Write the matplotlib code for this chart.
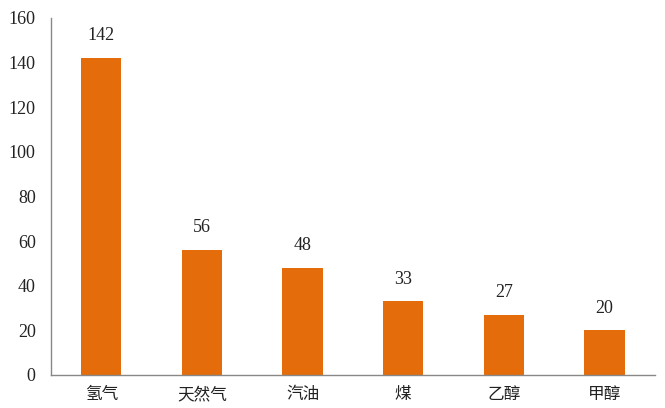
import matplotlib
matplotlib.use("Agg")
import matplotlib.pyplot as plt

categories = ["氢气", "天然气", "汽油", "煤", "乙醇", "甲醇"]
values = [142, 56, 48, 33, 27, 20]
yticks = [0, 20, 40, 60, 80, 100, 120, 140, 160]

bar_color = "#E46C0A"
num_font = ["Liberation Serif", "DejaVu Serif"]
cjk_font = ["Noto Sans CJK SC", "DejaVu Sans"]

fig = plt.figure(figsize=(6.65, 4.08), dpi=100)
ax = fig.add_axes([0.0767, 0.081, 0.908, 0.875])

x = list(range(len(categories)))
bars = ax.bar(x, values, width=0.4, color=bar_color)

# value labels above bars
for xi, v in zip(x, values):
    ax.annotate(str(v), (xi, v), xytext=(0, 16), textcoords="offset points",
                ha="center", va="center", fontsize=13, family=num_font, color="#222222")

ax.set_xlim(-0.5, len(categories) - 0.5)
ax.set_ylim(0, 160)
ax.set_yticks(yticks)
ax.set_yticklabels([str(t) for t in yticks], family=num_font, fontsize=13, color="#222222")
ax.set_xticks(x)
ax.set_xticklabels(categories, family=cjk_font, fontsize=12, color="#222222")
ax.tick_params(axis="both", length=0)
ax.tick_params(axis="y", pad=11)
ax.tick_params(axis="x", pad=8)

for s in ["top", "right"]:
    ax.spines[s].set_visible(False)
for s in ["left", "bottom"]:
    ax.spines[s].set_color("#888888")
    ax.spines[s].set_linewidth(1.0)

fig.savefig("out.png", dpi=100)
